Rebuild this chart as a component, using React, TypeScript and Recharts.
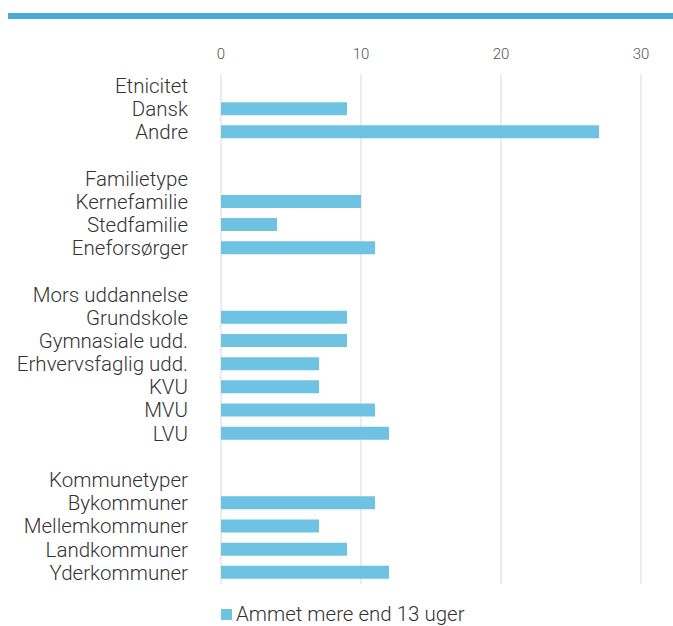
import React from "react";
import {
  BarChart,
  Bar,
  XAxis,
  YAxis,
  CartesianGrid,
  Legend,
} from "recharts";

// rows from top to bottom; group headers and blank spacer rows have no value
const categories = [
  "Etnicitet",
  "Dansk",
  "Andre",
  " ",
  "Familietype",
  "Kernefamilie",
  "Stedfamilie",
  "Eneforsørger",
  "  ",
  "Mors uddannelse",
  "Grundskole",
  "Gymnasiale udd.",
  "Erhvervsfaglig udd.",
  "KVU",
  "MVU",
  "LVU",
  "   ",
  "Kommunetyper",
  "Bykommuner",
  "Mellemkommuner",
  "Landkommuner",
  "Yderkommuner",
];

const ammetValues: (number | null)[] = [
  null, 9, 27,
  null,
  null, 10, 4, 11,
  null,
  null, 9, 9, 7, 7, 11, 12,
  null,
  null, 11, 7, 9, 12,
];

const xTicks = [0, 10, 20, 30];
const seriesName = "Ammet mere end 13 uger";

const data = categories.map((name, i) => ({ name, value: ammetValues[i] }));

const FONT = "Roboto, 'Open Sans', sans-serif";
const TEXT = "#333333";
const BAR = "#6EC3E2";

function LegendBox() {
  return (
    <div
      style={{
        display: "flex",
        alignItems: "center",
        fontFamily: FONT,
        fontWeight: 300,
        fontSize: 20.5,
        color: TEXT,
        whiteSpace: "nowrap",
      }}
    >
      <span
        style={{
          display: "inline-block",
          width: 11,
          height: 11,
          background: BAR,
          marginRight: 4,
        }}
      />
      <span>{seriesName}</span>
    </div>
  );
}

export default function App() {
  return (
    <div
      style={{
        position: "absolute",
        left: 0,
        top: 0,
        width: 673,
        height: 626,
        background: "#fff",
      }}
    >
      <div
        style={{
          position: "absolute",
          left: 8,
          right: 0,
          top: 13,
          height: 6,
          background: "#49AAD8",
        }}
      />
      <BarChart
        width={673}
        height={626}
        data={data}
        layout="vertical"
        margin={{ top: 44, right: 32, left: 0, bottom: 18 }}
        barSize={13}
      >
        <CartesianGrid horizontal={false} stroke="#d9d9d9" />
        <XAxis
          type="number"
          orientation="top"
          domain={[0, 30]}
          ticks={xTicks}
          height={30}
          axisLine={false}
          tickLine={false}
          tickSize={0}
          tickMargin={15}
          tick={{ fontSize: 15, fill: "#555", fontFamily: FONT, fontWeight: 300 }}
        />
        <YAxis
          type="category"
          dataKey="name"
          width={221}
          interval={0}
          axisLine={false}
          tickLine={false}
          tickSize={0}
          tickMargin={33}
          tick={{ fontSize: 20.5, fill: TEXT, fontFamily: FONT, fontWeight: 300 }}
        />
        <Legend
          content={() => <LegendBox />}
          wrapperStyle={{ left: 221, top: 602, width: "auto" }}
        />
        <Bar
          dataKey="value"
          name={seriesName}
          fill={BAR}
          isAnimationActive={false}
        />
      </BarChart>
    </div>
  );
}
